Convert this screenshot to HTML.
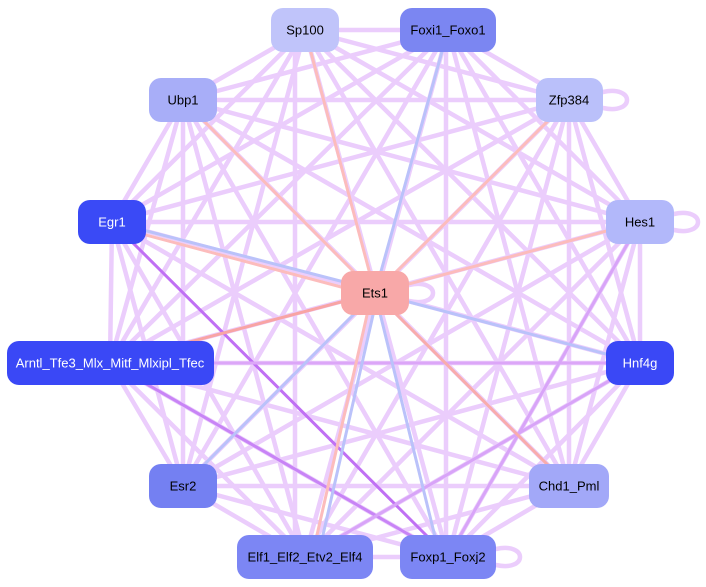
<!DOCTYPE html>
<html><head><meta charset="utf-8"><style>
html,body{margin:0;padding:0;background:#fff;width:706px;height:587px;overflow:hidden}
svg{display:block}
text{font-family:"Liberation Sans",sans-serif;font-size:13px;text-anchor:middle;dominant-baseline:central}
</style></head><body>
<svg width="706" height="587" viewBox="0 0 706 587">
<g stroke="#ebcdfc" stroke-width="4.5" fill="none" stroke-linecap="round">
<line x1="305" y1="30" x2="448" y2="30"/><line x1="305" y1="30" x2="569" y2="100"/><line x1="305" y1="30" x2="183" y2="100"/><line x1="305" y1="30" x2="640" y2="222"/><line x1="305" y1="30" x2="112" y2="222"/><line x1="305" y1="30" x2="110" y2="363"/><line x1="305" y1="30" x2="640" y2="363"/><line x1="305" y1="30" x2="183" y2="486"/><line x1="305" y1="30" x2="569" y2="486"/><line x1="295" y1="30" x2="295" y2="557"/><line x1="305" y1="30" x2="448" y2="557"/>
<line x1="448" y1="30" x2="569" y2="100"/><line x1="448" y1="30" x2="183" y2="100"/><line x1="448" y1="30" x2="640" y2="222"/><line x1="448" y1="30" x2="112" y2="222"/><line x1="448" y1="30" x2="110" y2="363"/><line x1="448" y1="30" x2="640" y2="363"/><line x1="448" y1="30" x2="183" y2="486"/><line x1="448" y1="30" x2="569" y2="486"/><line x1="448" y1="30" x2="305" y2="557"/><line x1="446" y1="30" x2="446" y2="557"/>
<line x1="569" y1="100" x2="183" y2="100"/><line x1="569" y1="100" x2="640" y2="222"/><line x1="569" y1="100" x2="112" y2="222"/><line x1="569" y1="100" x2="110" y2="363"/><line x1="569" y1="100" x2="640" y2="363"/><line x1="569" y1="100" x2="183" y2="486"/><line x1="569" y1="100" x2="569" y2="486"/><line x1="569" y1="100" x2="305" y2="557"/><line x1="569" y1="100" x2="448" y2="557"/>
<line x1="183" y1="100" x2="640" y2="222"/><line x1="183" y1="100" x2="112" y2="222"/><line x1="183" y1="100" x2="110" y2="363"/><line x1="183" y1="100" x2="640" y2="363"/><line x1="183" y1="100" x2="183" y2="486"/><line x1="183" y1="100" x2="569" y2="486"/><line x1="183" y1="100" x2="305" y2="557"/><line x1="183" y1="100" x2="448" y2="557"/>
<line x1="640" y1="222" x2="112" y2="222"/><line x1="640" y1="222" x2="110" y2="363"/><line x1="640" y1="222" x2="640" y2="363"/><line x1="640" y1="222" x2="183" y2="486"/><line x1="640" y1="222" x2="569" y2="486"/><line x1="640" y1="222" x2="305" y2="557"/><line x1="640" y1="222" x2="448" y2="557"/>
<line x1="112" y1="222" x2="110" y2="363"/><line x1="112" y1="222" x2="640" y2="363"/><line x1="112" y1="222" x2="183" y2="486"/><line x1="112" y1="222" x2="569" y2="486"/><line x1="112" y1="222" x2="305" y2="557"/>
<line x1="110" y1="363" x2="640" y2="363"/><line x1="110" y1="363" x2="183" y2="486"/><line x1="110" y1="363" x2="569" y2="486"/><line x1="110" y1="363" x2="305" y2="557"/><line x1="110" y1="363" x2="448" y2="557"/>
<line x1="640" y1="363" x2="183" y2="486"/><line x1="640" y1="363" x2="569" y2="486"/><line x1="640" y1="363" x2="305" y2="557"/><line x1="640" y1="363" x2="448" y2="557"/>
<line x1="183" y1="486" x2="569" y2="486"/><line x1="183" y1="486" x2="305" y2="557"/><line x1="183" y1="486" x2="448" y2="557"/>
<line x1="569" y1="486" x2="305" y2="557"/><line x1="569" y1="486" x2="448" y2="557"/><line x1="305" y1="557" x2="448" y2="557"/>
<path d="M603 92 C635 85 635 115 603 108"/><path d="M674 214 C706 207 706 237 674 230"/><path d="M409 285 C441 278 441 308 409 301"/><path d="M496 549 C528 542 528 572 496 565"/>
</g>
<g stroke-width="3" fill="none" stroke-linecap="round">
<line x1="112" y1="222" x2="448" y2="557" stroke="#c070f4"/>
<line x1="110" y1="363" x2="448" y2="557" stroke="#c884f6"/>
<line x1="640" y1="363" x2="110" y2="363" stroke="#dca6f8"/>
<line x1="640" y1="222" x2="448" y2="557" stroke="#d8a4f8"/>
<line x1="640" y1="363" x2="305" y2="557" stroke="#d8a4f8"/>
<line x1="375" y1="293" x2="305" y2="30" stroke="#fcbcbc"/>
<line x1="375" y1="293" x2="448" y2="30" stroke="#bac2fa"/>
<line x1="375" y1="293" x2="569" y2="100" stroke="#fcbcbc"/>
<line x1="375" y1="293" x2="183" y2="100" stroke="#fcbcbc"/>
<line x1="375" y1="293" x2="640" y2="222" stroke="#fcbcbc"/>
<line x1="375" y1="290" x2="112" y2="222" stroke="#bac2fa"/>
<line x1="375" y1="296" x2="112" y2="226" stroke="#fcbcbc"/>
<line x1="375" y1="293" x2="110" y2="363" stroke="#f8a4a4"/>
<line x1="375" y1="293" x2="640" y2="363" stroke="#bac2fa"/>
<line x1="375" y1="293" x2="569" y2="486" stroke="#f8acac"/>
<line x1="375" y1="293" x2="183" y2="486" stroke="#bac2fa"/>
<line x1="372" y1="293" x2="312" y2="557" stroke="#fcbcbc"/>
<line x1="378" y1="293" x2="318" y2="557" stroke="#bac2fa"/>
<line x1="375" y1="293" x2="440" y2="557" stroke="#bac2fa"/>
</g>
<g>
<rect x="271" y="8" width="68" height="44" rx="12" fill="#c0c4fa"/><text x="305" y="30">Sp100</text>
<rect x="400" y="8" width="96" height="44" rx="12" fill="#7b86f2"/><text x="448" y="30">Foxi1_Foxo1</text>
<rect x="536" y="78" width="67" height="44" rx="12" fill="#bac0fa"/><text x="569" y="100">Zfp384</text>
<rect x="149" y="78" width="68" height="44" rx="12" fill="#a8aef8"/><text x="183" y="100">Ubp1</text>
<rect x="606" y="200" width="68" height="44" rx="12" fill="#b2b8fa"/><text x="640" y="222">Hes1</text>
<rect x="78" y="200" width="68" height="44" rx="12" fill="#3a4af6"/><text x="112" y="222" fill="#fff">Egr1</text>
<rect x="341" y="271" width="68" height="44" rx="12" fill="#f8a8a8"/><text x="375" y="293">Ets1</text>
<rect x="7" y="341" width="207" height="44" rx="12" fill="#3a48f6"/><text x="110" y="363" fill="#fff">Arntl_Tfe3_Mlx_Mitf_Mlxipl_Tfec</text>
<rect x="606" y="341" width="68" height="44" rx="12" fill="#3a48f6"/><text x="640" y="363" fill="#fff">Hnf4g</text>
<rect x="149" y="464" width="68" height="44" rx="12" fill="#7480f2"/><text x="183" y="486">Esr2</text>
<rect x="529" y="464" width="80" height="44" rx="12" fill="#a2a8f8"/><text x="569" y="486">Chd1_Pml</text>
<rect x="237" y="535" width="136" height="44" rx="12" fill="#7c86f4"/><text x="305" y="557">Elf1_Elf2_Etv2_Elf4</text>
<rect x="400" y="535" width="96" height="44" rx="12" fill="#7c86f4"/><text x="448" y="557">Foxp1_Foxj2</text>
</g>
</svg>
</body></html>
